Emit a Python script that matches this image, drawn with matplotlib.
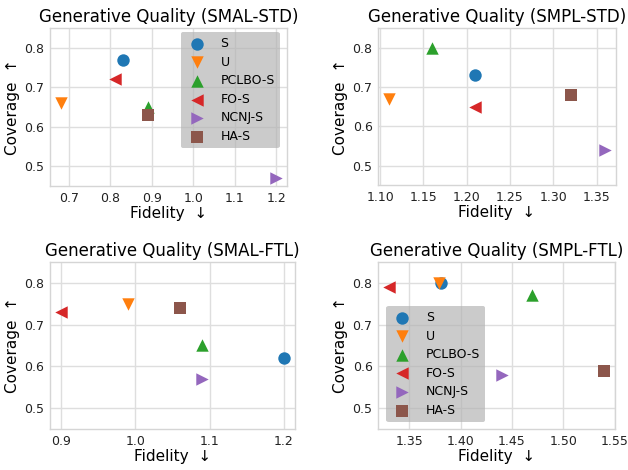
import matplotlib
matplotlib.use("Agg")
import matplotlib.pyplot as plt

methods = ["S", "U", "PCLBO-S", "FO-S", "NCNJ-S", "HA-S"]
markers = ["o", "v", "^", "<", ">", "s"]
colors = ["#1f77b4", "#ff7f0e", "#2ca02c", "#d62728", "#9467bd", "#8c564b"]

titles = ["Generative Quality (SMAL-STD)", "Generative Quality (SMPL-STD)",
          "Generative Quality (SMAL-FTL)", "Generative Quality (SMPL-FTL)"]

smal_std_fid = [0.83, 0.68, 0.89, 0.81, 1.20, 0.89]
smal_std_cov = [0.77, 0.66, 0.65, 0.72, 0.47, 0.63]
smpl_std_fid = [1.21, 1.11, 1.16, 1.21, 1.36, 1.32]
smpl_std_cov = [0.73, 0.67, 0.80, 0.65, 0.54, 0.68]
smal_ftl_fid = [1.20, 0.99, 1.09, 0.90, 1.09, 1.06]
smal_ftl_cov = [0.62, 0.75, 0.65, 0.73, 0.57, 0.74]
smpl_ftl_fid = [1.381, 1.379, 1.47, 1.33, 1.44, 1.54]
smpl_ftl_cov = [0.80, 0.80, 0.77, 0.79, 0.58, 0.59]

panels = [(smal_std_fid, smal_std_cov), (smpl_std_fid, smpl_std_cov),
          (smal_ftl_fid, smal_ftl_cov), (smpl_ftl_fid, smpl_ftl_cov)]

xticks = [[0.7, 0.8, 0.9, 1.0, 1.1, 1.2],
          [1.10, 1.15, 1.20, 1.25, 1.30, 1.35],
          [0.9, 1.0, 1.1, 1.2],
          [1.35, 1.40, 1.45, 1.50, 1.55]]
xfmt = ["%.1f", "%.2f", "%.1f", "%.2f"]
yticks = [0.5, 0.6, 0.7, 0.8]

positions = [
    [0.0796, 0.6043, 0.3774, 0.3361],
    [0.6020, 0.6060, 0.3790, 0.3344],
    [0.0796, 0.0872, 0.3901, 0.3554],
    [0.6020, 0.0872, 0.3774, 0.3554],
]
legend_anchor = {0: ("upper right", (0.970, 0.975)),
                 3: ("lower left", (0.034, 0.042))}

fig = plt.figure(figsize=(6.28, 4.70), dpi=100)
for i, (fid, cov) in enumerate(panels):
    ax = fig.add_axes(positions[i])
    ax.set_axisbelow(True)
    ax.grid(True, color="#dedede", linewidth=1.0)
    for spine in ax.spines.values():
        spine.set_color("#d5d5d5")
        spine.set_linewidth(1.0)
    for j, m in enumerate(methods):
        ax.scatter(fid[j], cov[j], marker=markers[j], color=colors[j], s=80,
                   label=m, zorder=3, linewidths=0)
    ax.set_ylim(0.45, 0.85)
    ax.set_yticks(yticks)
    ax.set_yticklabels(["%.1f" % v for v in yticks])
    ax.set_xticks(xticks[i])
    ax.set_xticklabels([xfmt[i] % v for v in xticks[i]])
    ax.tick_params(axis="both", labelsize=9, length=0, pad=4, colors="#222222")
    ax.set_title(titles[i], fontsize=12, pad=4)
    ax.set_xlabel("Fidelity  \u2193", fontsize=11, labelpad=1)
    ax.set_ylabel("Coverage  \u2191", fontsize=11, labelpad=3)
    if i in legend_anchor:
        loc, anchor = legend_anchor[i]
        ax.legend(loc=loc, bbox_to_anchor=anchor, borderaxespad=0,
                  fontsize=9, facecolor="#b0b0b0", framealpha=0.65,
                  edgecolor="none", borderpad=0.4, handlelength=1.8,
                  handletextpad=1.0, labelspacing=0.45, fancybox=True)

fig.savefig("out.png", dpi=100)
